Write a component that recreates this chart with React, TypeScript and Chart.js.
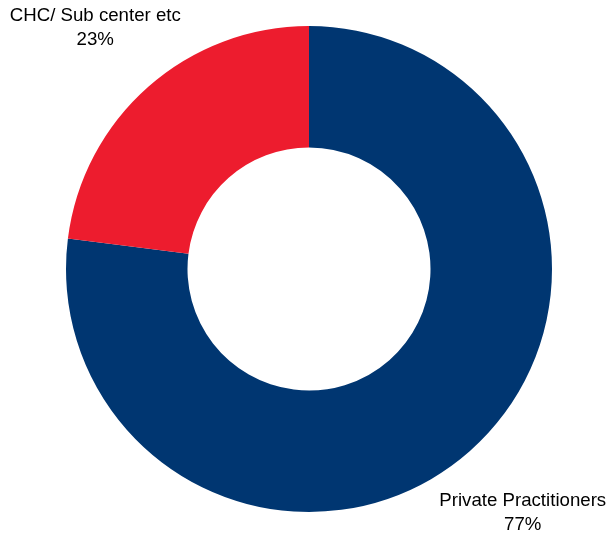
import React, { useEffect, useRef } from "react";
import { Chart, registerables } from "chart.js";

Chart.register(...registerables);

const categories = ["Private Practitioners", "CHC/ Sub center etc"];
const values = [77, 23];
const colors = ["#003671", "#ED1C2E"];

const labelPlugin = {
  id: "outerLabels",
  afterDraw(chart: any) {
    const ctx = chart.ctx;
    const meta = chart.getDatasetMeta(0);
    const total = values.reduce((a, b) => a + b, 0);
    ctx.save();
    ctx.fillStyle = "#000";
    ctx.font = "18.67px 'Liberation Sans', Arial, sans-serif";
    ctx.textAlign = "center";
    ctx.textBaseline = "middle";
    meta.data.forEach((arc: any, i: number) => {
      const { x, y, startAngle, endAngle, outerRadius } = arc.getProps(
        ["x", "y", "startAngle", "endAngle", "outerRadius"],
        true
      );
      const mid = (startAngle + endAngle) / 2;
      const d = outerRadius * 1.33;
      const lx = x + Math.cos(mid) * d;
      const ly = y + Math.sin(mid) * d;
      const pct = Math.round((values[i] / total) * 100) + "%";
      ctx.fillText(categories[i], lx, ly - 11);
      ctx.fillText(pct, lx, ly + 13);
    });
    ctx.restore();
  },
};

export default function App() {
  const ref = useRef<HTMLCanvasElement>(null);
  useEffect(() => {
    if (!ref.current) return;
    const chart = new Chart(ref.current, {
      type: "doughnut",
      data: {
        labels: categories,
        datasets: [
          {
            data: values,
            backgroundColor: colors,
            borderWidth: 0,
          },
        ],
      },
      options: {
        animation: false,
        responsive: false,
        cutout: "50%",
        layout: { padding: { top: 26, bottom: 22, left: 12, right: 0 } },
        plugins: {
          legend: { display: false },
          tooltip: { enabled: false },
        },
      },
      plugins: [labelPlugin],
    });
    return () => chart.destroy();
  }, []);
  return (
    <div style={{ position: "fixed", left: 0, top: 0, width: 606, height: 534, background: "#fff" }}>
      <canvas ref={ref} width={606} height={534} style={{ width: 606, height: 534 }} />
    </div>
  );
}
